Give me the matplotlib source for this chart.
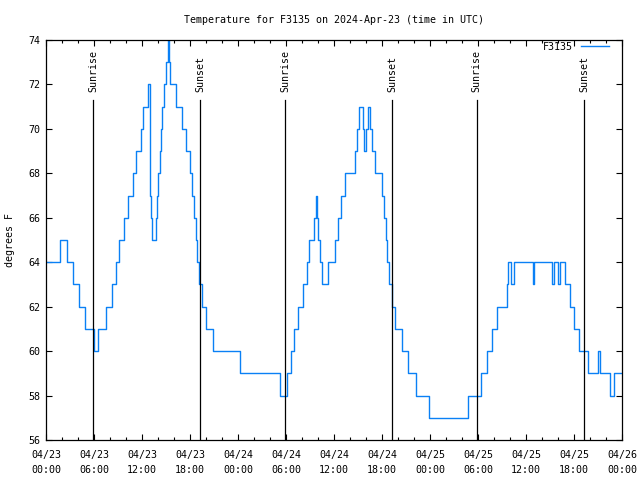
import matplotlib
matplotlib.use("Agg")
import matplotlib.pyplot as plt
from matplotlib.ticker import MultipleLocator

# ─────────────────────────────────────────
# data: hours since 04/23 00:00 UTC where the reading changes -> new reading (F)
# ─────────────────────────────────────────
change_hours = [
    0.0, 1.8, 2.6, 3.4, 4.1, 4.9, 6.05, 6.45, 7.55, 8.25, 8.8, 9.1, 9.8, 10.2,
    10.9, 11.2, 11.9, 12.15, 12.7, 12.95, 13.1, 13.3, 13.7, 13.9, 14.05, 14.2,
    14.4, 14.55, 14.75, 14.95, 15.2, 15.35, 15.5, 16.25, 17.05, 17.45, 18.0,
    18.3, 18.5, 18.7, 18.9, 19.1, 19.45, 20.0, 20.9, 24.25,
    29.2, 30.1, 30.6, 31.0, 31.5, 32.1, 32.6, 32.9, 33.5, 33.7, 33.9, 34.05,
    34.2, 34.45, 35.3, 36.1, 36.5, 36.9, 37.4, 38.65, 38.85, 39.1, 39.6, 39.75,
    39.95, 40.2, 40.5, 40.75, 41.1, 41.95, 42.2, 42.45, 42.65, 42.9, 43.2,
    43.6, 44.5, 45.25, 46.3, 47.85,
    52.75, 54.4, 55.1, 55.8, 56.4, 57.6, 57.8, 58.1, 58.5, 60.85, 61.05, 63.3,
    63.55, 63.95, 64.3, 64.9, 65.5, 65.95, 66.6, 67.75, 69.0, 69.25, 70.5,
    70.95,
]
change_temps = [
    64, 65, 64, 63, 62, 61, 60, 61, 62, 63, 64, 65, 66, 67,
    68, 69, 70, 71, 72, 67, 66, 65, 66, 67, 68, 69,
    70, 71, 72, 73, 74, 73, 72, 71, 70, 69, 68,
    67, 66, 65, 64, 63, 62, 61, 60, 59,
    58, 59, 60, 61, 62, 63, 64, 65, 66, 67, 66, 65,
    64, 63, 64, 65, 66, 67, 68, 69, 70, 71, 70, 69,
    70, 71, 70, 69, 68, 67, 66, 65, 64, 63, 62,
    61, 60, 59, 58, 57,
    58, 59, 60, 61, 62, 63, 64, 63, 64, 63, 64, 63,
    64, 63, 64, 63, 62, 61, 60, 59, 60, 59, 58,
    59,
]
end_hour = 72.0

sunrise_hours = [5.88, 29.87, 53.85]
sunset_hours = [19.25, 43.27, 67.29]

x_ticks = [0, 6, 12, 18, 24, 30, 36, 42, 48, 54, 60, 66, 72]
x_tick_labels = [
    "04/23\n00:00", "04/23\n06:00", "04/23\n12:00", "04/23\n18:00",
    "04/24\n00:00", "04/24\n06:00", "04/24\n12:00", "04/24\n18:00",
    "04/25\n00:00", "04/25\n06:00", "04/25\n12:00", "04/25\n18:00",
    "04/26\n00:00",
]
y_ticks = [56, 58, 60, 62, 64, 66, 68, 70, 72, 74]

# ─────────────────────────────────────────
# figure
# ─────────────────────────────────────────
plt.rcParams['font.family'] = ['DejaVu Sans Mono']
plt.rcParams['font.size'] = 7.2

fig = plt.figure(figsize=(6.4, 4.8), dpi=100)
ax = fig.add_axes([46 / 640, 40 / 480, 576 / 640, 400 / 480])

xs = change_hours + [end_hour]
ys = change_temps + [change_temps[-1]]
ax.plot(xs, ys, drawstyle='steps-post', color='#0a80f5', lw=1.0, label='F3135')

for h in sunrise_hours + sunset_hours:
    ax.axvline(h, ymin=0, ymax=0.85, color='black', lw=0.9)
for h in sunrise_hours:
    ax.text(h, 0.87, "Sunrise", rotation=90, ha='center', va='bottom',
            transform=ax.get_xaxis_transform())
for h in sunset_hours:
    ax.text(h, 0.87, "Sunset", rotation=90, ha='center', va='bottom',
            transform=ax.get_xaxis_transform())

ax.set_xlim(0, 72)
ax.set_ylim(56, 74)
ax.set_xticks(x_ticks)
ax.set_xticklabels(x_tick_labels, linespacing=1.6)
ax.xaxis.set_minor_locator(MultipleLocator(2))
ax.set_yticks(y_ticks)

ax.tick_params(which='both', direction='in', top=True, right=True, width=0.8)
ax.tick_params(which='major', length=4)
ax.tick_params(which='minor', length=2)
ax.tick_params(axis='x', pad=7.5)
ax.tick_params(axis='y', pad=4)
for s in ax.spines.values():
    s.set_linewidth(0.9)

leg = ax.legend(loc='upper right', bbox_to_anchor=(563 / 576, 0.995),
                frameon=False, markerfirst=False, handlelength=2.8,
                handletextpad=0.8, borderaxespad=0, borderpad=0)

fig.text(334 / 640, 1 - 20 / 480, "Temperature for F3135 on 2024-Apr-23 (time in UTC)",
         ha='center', va='center')
fig.text(10 / 640, 0.5, "degrees F", rotation=90, ha='center', va='center')

plt.savefig("out.png", dpi=100)
